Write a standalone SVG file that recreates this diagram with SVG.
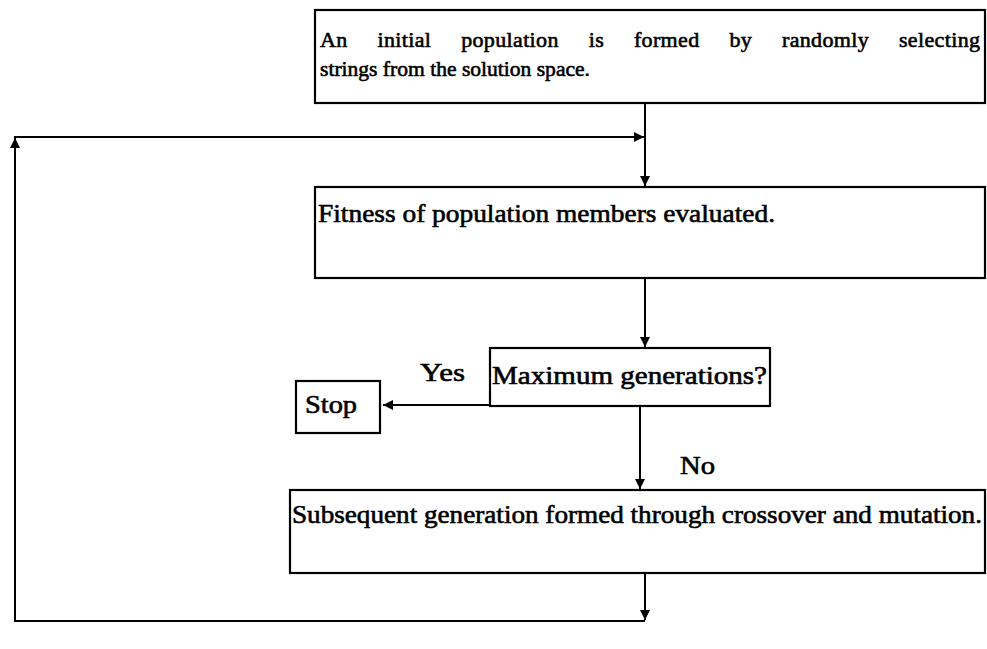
<svg xmlns="http://www.w3.org/2000/svg" width="987" height="649" viewBox="0 0 987 649">
<defs>
<style>
.box{fill:#fff;stroke:#000;stroke-width:2.2}
.ln{fill:none;stroke:#000;stroke-width:2}
.t{font-family:"Liberation Serif","Times New Roman",serif;fill:#000;stroke:#000;stroke-width:0.6}
.t1{font-size:22px}
.t2{font-size:25px}
</style>
<marker id="ah" viewBox="0 0 10 10" refX="10" refY="5" markerWidth="6" markerHeight="5" markerUnits="strokeWidth" orient="auto">
<path d="M0,0 L10,5 L0,10 Z" fill="#000"/>
</marker>
</defs>
<rect width="987" height="649" fill="#fff"/>
<g id="connectors">
<line class="ln" x1="645" y1="103" x2="645" y2="186" marker-end="url(#ah)"/>
<line class="ln" x1="645" y1="278" x2="645" y2="347" marker-end="url(#ah)"/>
<line class="ln" x1="490" y1="405" x2="383" y2="405" marker-end="url(#ah)"/>
<line class="ln" x1="640" y1="406" x2="640" y2="489" marker-end="url(#ah)"/>
<line class="ln" x1="645" y1="573" x2="645" y2="620" marker-end="url(#ah)"/>
<line class="ln" x1="645" y1="621" x2="15" y2="621"/>
<line class="ln" x1="15" y1="622" x2="15" y2="138" marker-end="url(#ah)"/>
<line class="ln" x1="14" y1="137" x2="644" y2="137" marker-end="url(#ah)"/>
</g>
<g id="node-init">
<rect class="box" x="315" y="10" width="670" height="93"/>
<text class="t t1" x="320" y="47" word-spacing="24" textLength="660" lengthAdjust="spacing">An initial population is formed by randomly selecting</text>
<text class="t t1" x="320" y="76" textLength="270" lengthAdjust="spacingAndGlyphs">strings from the solution space.</text>
</g>
<g id="node-fitness">
<rect class="box" x="315" y="187" width="670" height="91"/>
<text class="t t2" x="318" y="222" textLength="457" lengthAdjust="spacingAndGlyphs">Fitness of population members evaluated.</text>
</g>
<g id="node-max">
<rect class="box" x="490" y="348" width="280" height="58"/>
<text class="t t2" x="492" y="384" textLength="275" lengthAdjust="spacingAndGlyphs">Maximum generations?</text>
</g>
<g id="node-stop">
<rect class="box" x="296" y="381" width="84" height="52"/>
<text class="t t2" x="305" y="413" textLength="52" lengthAdjust="spacingAndGlyphs">Stop</text>
</g>
<g id="node-next">
<rect class="box" x="290" y="490" width="695" height="83"/>
<text class="t t2" x="292" y="523" textLength="690" lengthAdjust="spacingAndGlyphs">Subsequent generation formed through crossover and mutation.</text>
</g>
<g id="labels">
<text class="t t2" x="420" y="381" textLength="45" lengthAdjust="spacingAndGlyphs">Yes</text>
<text class="t t2" x="680" y="474" textLength="35" lengthAdjust="spacingAndGlyphs">No</text>
</g>
</svg>
